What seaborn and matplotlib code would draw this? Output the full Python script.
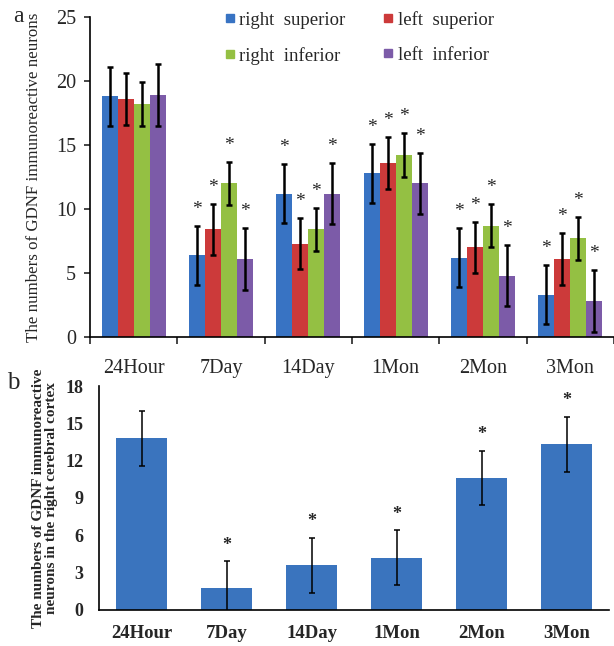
import numpy as np
import pandas as pd
import seaborn as sns
import matplotlib.pyplot as plt
from matplotlib.lines import Line2D

# Panel a data: GDNF immunoreactive neurons by region
times = ["24Hour", "7Day", "14Day", "1Mon", "2Mon", "3Mon"]
regions = ["right superior", "left superior", "right inferior", "left inferior"]

right_superior = [18.8, 6.4, 11.2, 12.8, 6.2, 3.3]
left_superior = [18.6, 8.4, 7.3, 13.6, 7.0, 6.1]
right_inferior = [18.2, 12.0, 8.4, 14.2, 8.7, 7.7]
left_inferior = [18.9, 6.1, 11.2, 12.0, 4.8, 2.8]

right_superior_err = [2.3, 2.3, 2.3, 2.3, 2.3, 2.3]
left_superior_err = [2.0, 2.0, 2.0, 2.0, 2.0, 2.0]
right_inferior_err = [1.7, 1.65, 1.7, 1.7, 1.7, 1.7]
left_inferior_err = [2.4, 2.4, 2.4, 2.4, 2.4, 2.4]

# significance flags (1 = star)
stars_a = [0, 1, 1, 1, 1, 1]

# Panel b data: right cerebral cortex
cortex_values = [13.8, 1.8, 3.6, 4.2, 10.6, 13.3]
cortex_err = [2.2, 2.1, 2.2, 2.2, 2.2, 2.2]
stars_b = [0, 1, 1, 1, 1, 1]

# Style
sns.set_style("white")
plt.rcParams["font.family"] = ["Liberation Serif", "DejaVu Serif"]
colors_a = ["#3873C3", "#CC3A3A", "#94C043", "#7C5BA8"]
blue_b = "#3A74BE"

df_a = pd.DataFrame({
    "time": times * 4,
    "region": [r for r in regions for _ in times],
    "count": right_superior + left_superior + right_inferior + left_inferior,
})
errs_a = [right_superior_err, left_superior_err, right_inferior_err, left_inferior_err]

fig = plt.figure(figsize=(6.14, 6.46), dpi=100)
ax1 = fig.add_axes([90 / 614, 1 - 337 / 646, 524 / 614, 320 / 646])
ax2 = fig.add_axes([99 / 614, 1 - 610 / 646, 510 / 614, 224 / 646])

# ---- Panel a ----
sns.barplot(data=df_a, x="time", y="count", hue="region", order=times,
            hue_order=regions, palette=colors_a, width=0.733, saturation=1,
            errorbar=None, legend=False, linewidth=0, ax=ax1)

for cont, err in zip(ax1.containers, errs_a):
    xs = [b.get_x() + b.get_width() / 2 for b in cont]
    ys = [b.get_height() for b in cont]
    ax1.errorbar(xs, ys, yerr=err, fmt="none", ecolor="black",
                 elinewidth=1.8, capsize=2.2, capthick=1.8)
    for x, y, e, s in zip(xs, ys, err, stars_a):
        if s:
            ax1.text(x, y + e + 1.3, "*", ha="center", va="center", fontsize=14)

ax1.set_ylim(0, 25)
ax1.set_xlim(-0.5, 5.5)
ax1.set_yticks([0, 5, 10, 15, 20, 25])
ax1.set_xticks(range(len(times)))
ax1.set_xticklabels(times)
ax1.set_xticks(np.arange(-0.5, 6, 1), minor=True)
ax1.tick_params(axis="x", which="major", length=0, pad=16, labelsize=14.5)
ax1.tick_params(axis="x", which="minor", length=5, width=1.2, direction="out", bottom=True)
ax1.tick_params(axis="y", length=4, width=1.2, direction="out", left=True, pad=6, labelsize=14.5)
ax1.set_xlabel("")
ax1.set_ylabel("")
for side in ["top", "right"]:
    ax1.spines[side].set_visible(False)
for side in ["left", "bottom"]:
    ax1.spines[side].set_linewidth(1.2)
    ax1.spines[side].set_color("black")

handles = [Line2D([], [], marker="s", linestyle="none", markersize=6,
                  markerfacecolor=c, markeredgecolor=c) for c in colors_a]
# order for 2 columns: column-major fill
order = [0, 2, 1, 3]
labels = ["right  superior", "right  inferior", "left  superior", "left  inferior"]
ax1.legend([handles[i] for i in order], labels, ncol=2,
           loc="upper left", bbox_to_anchor=(224 / 614, 1 - 11 / 646),
           bbox_transform=fig.transFigure, frameon=False, fontsize=13.5,
           handlelength=0.6, handletextpad=0.2, columnspacing=2.0,
           labelspacing=0.95, borderpad=0, borderaxespad=0)

fig.text(34 / 614, 1 - 177 / 646, "The numbers of GDNF immunoreactive neurons",
         rotation=90, ha="center", va="center", fontsize=12.2)
fig.text(18 / 614, 1 - 16 / 646, "a", ha="center", va="center", fontsize=17)

# ---- Panel b ----
sns.barplot(x=times, y=cortex_values, color=blue_b, width=0.59, saturation=1,
            errorbar=None, linewidth=0, ax=ax2)
ax2.errorbar(range(len(times)), cortex_values, yerr=cortex_err, fmt="none",
             ecolor="black", elinewidth=1.1, capsize=2.2, capthick=1.1)
for i, (v, e, s) in enumerate(zip(cortex_values, cortex_err, stars_b)):
    if s:
        ax2.text(i, v + e + 1.3, "*", ha="center", va="center", fontsize=13,
                 fontweight="bold")

ax2.set_ylim(0, 18)
ax2.set_xlim(-0.5, 5.5)
ax2.set_yticks(range(0, 19, 3))
ax2.tick_params(axis="x", length=0, pad=11, labelsize=13.5)
ax2.tick_params(axis="y", length=0, pad=11, labelsize=13)
for lab in ax2.get_xticklabels() + ax2.get_yticklabels():
    lab.set_fontweight("bold")
for side in ["top", "right"]:
    ax2.spines[side].set_visible(False)
for side in ["left", "bottom"]:
    ax2.spines[side].set_linewidth(1.2)
    ax2.spines[side].set_color("black")

fig.text(45 / 614, 1 - 498 / 646,
         "The numbers of GDNF immunoreactive\nneurons in the right cerebral cortex",
         rotation=90, ha="center", va="center", fontsize=11,
         fontweight="bold", linespacing=0.95)
fig.text(13 / 614, 1 - 383 / 646, "b", ha="center", va="center", fontsize=18)

fig.savefig("out.png", dpi=100)
